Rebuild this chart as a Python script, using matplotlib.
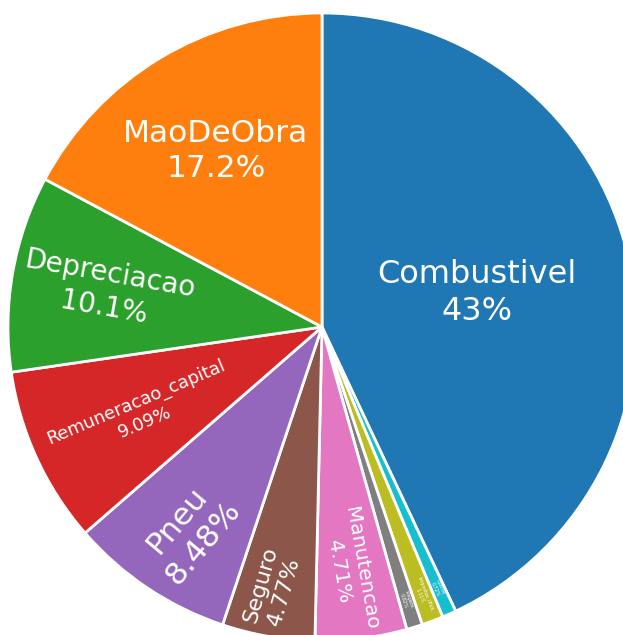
import numpy as np
import matplotlib
matplotlib.use("Agg")
import matplotlib.pyplot as plt

# slices in clockwise order starting at 12 o'clock
labels = ["Combustivel", "Outros", "Impostos_IPVA", "Viagem", "Manutencao",
          "Seguro", "Pneu", "Remuneracao_capital", "Depreciacao", "MaoDeObra"]
values = [43.0, 0.72, 1.11, 0.82, 4.71, 4.77, 8.48, 9.09, 10.1, 17.2]
pct_text = ["43%", "0.72%", "1.11%", "0.82%", "4.71%", "4.77%", "8.48%",
            "9.09%", "10.1%", "17.2%"]
colors = ["#1f77b4", "#17becf", "#bcbd22", "#7f7f7f", "#e377c2",
          "#8c564b", "#9467bd", "#d62728", "#2ca02c", "#ff7f0e"]

W, H = 623, 635
cx, cy, R = 322, 327, 314

fig = plt.figure(figsize=(W / 100, H / 100), dpi=100)
ax = fig.add_axes([0, 0, 1, 1])
wedges, _ = ax.pie(values, colors=colors, startangle=90, counterclock=False,
                   radius=1, wedgeprops=dict(edgecolor="white", linewidth=2))
ax.set_xlim(-cx / R, (W - cx) / R)
ax.set_ylim(-(H - cy) / R, cy / R)
ax.set_aspect("auto")
ax.axis("off")

# label placement (data coords), rotation, font size
place = {
    "Combustivel": ((0.494, 0.108), 0, 23),
    "MaoDeObra": ((-0.338, 0.561), 0, 22.5),
    "Depreciacao": ((-0.685, 0.115), -10, 20),
    "Remuneracao_capital": ((-0.578, -0.271), 23, 12.8),
    "Pneu": ((-0.420, -0.650), 50, 22.5),
    "Seguro": ((-0.159, -0.831), 74, 16),
    "Manutencao": ((0.089, -0.774), -80, 14.5),
}

for w, lab, pt in zip(wedges, labels, pct_text):
    if lab in place:
        (x, y), rot, fs = place[lab]
    else:
        mid = np.deg2rad((w.theta1 + w.theta2) / 2)
        x, y = 0.91 * np.cos(mid), 0.91 * np.sin(mid)
        rot = np.rad2deg(mid)
        fs = 3.5
    ax.text(x, y, lab + "\n" + pt, color="white", fontsize=fs, rotation=rot,
            ha="center", va="center", rotation_mode="anchor",
            multialignment="center", linespacing=1.25)

fig.savefig("out.png", dpi=100)
